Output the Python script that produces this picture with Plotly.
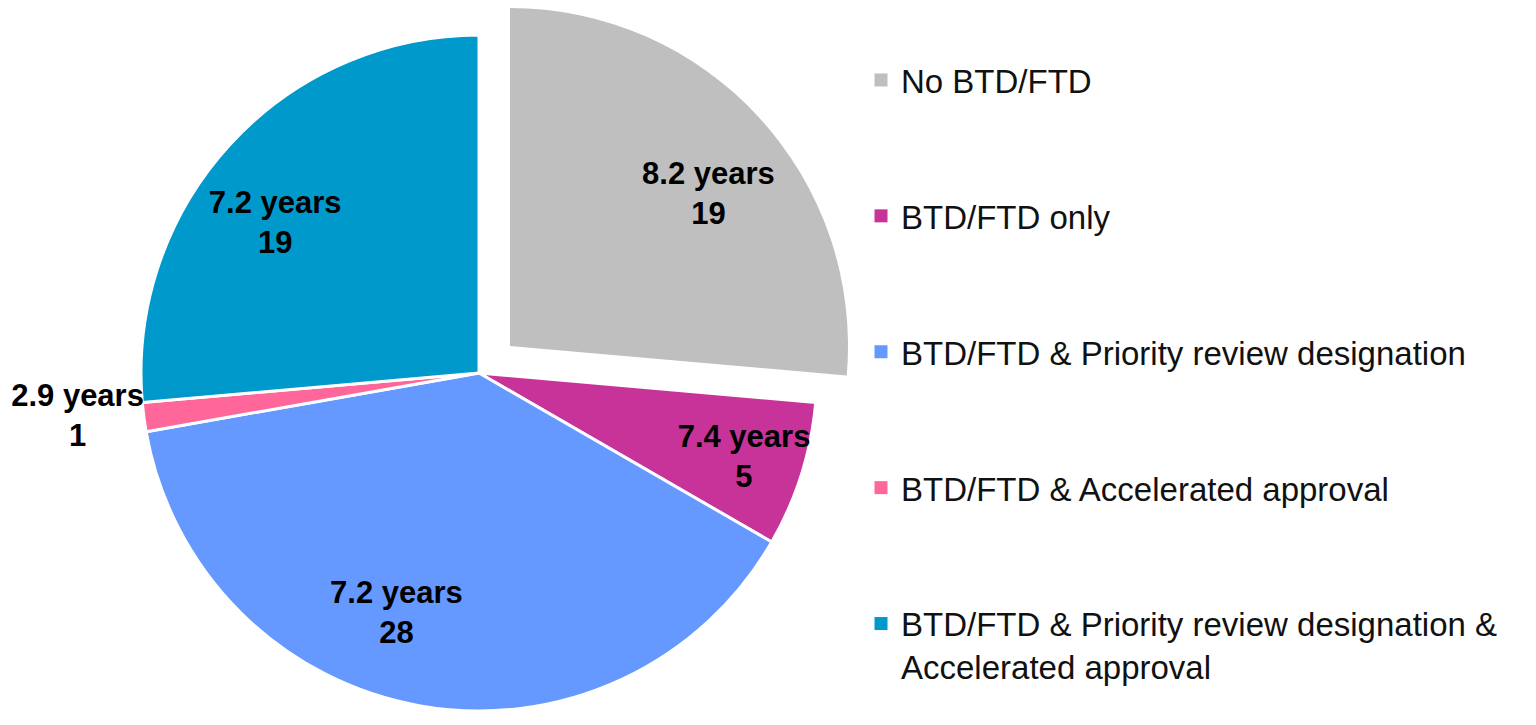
import plotly.graph_objects as go

labels = ["No BTD/FTD", "BTD/FTD only", "BTD/FTD & Priority review designation",
          "BTD/FTD & Accelerated approval",
          "BTD/FTD & Priority review designation &<br>Accelerated approval"]
counts = [19, 5, 28, 1, 19]
years = ["8.2 years", "7.4 years", "7.2 years", "2.9 years", "7.2 years"]
colors = ["#BFBFBF", "#C8339A", "#6699FF", "#FF6699", "#0099CC"]
exploded = [True, False, False, False, False]

# label placement styles (per slice): text position, ring hole, angular nudge, radius trim
text_pos = ["inside", "inside", "inside", "outside", "inside"]
label_hole = [0.48, 0.5, 0.5, 0.5, 0.5]
label_rot = [5, 0, 9, 0, -6]
label_trim = [0, 0, 0, 19, 0]

FONT = "Liberation Sans, Arial, sans-serif"
# the page body adds an 8px margin, so the figure is 16px smaller than the window
W, H = 1520, 709
LABEL_SIZE = 31

texts = [f"<b>{y}<br>{c}</b>" for y, c in zip(years, counts)]
CLEAR = "rgba(0,0,0,0)"
n = len(counts)

cx, cy, r = 471, 365, 338
dx, dy = 31, 27


def dom(x0, y0, rad=r):
    return dict(x=[(x0 - rad) / W, (x0 + rad) / W],
                y=[max(0, 1 - (y0 + rad) / H), min(1, 1 - (y0 - rad) / H)])


def center(i):
    return (cx + dx, cy - dy) if exploded[i] else (cx, cy)


common = dict(labels=labels, values=counts, sort=False, direction="clockwise",
              showlegend=False, hoverinfo="skip",
              insidetextorientation="horizontal",
              textfont=dict(family=FONT, size=LABEL_SIZE, color="black"))

fig = go.Figure()
# main pie (fills of non-exploded slices)
fig.add_trace(go.Pie(
    marker=dict(colors=[CLEAR if e else c for c, e in zip(colors, exploded)],
                line=dict(color="white", width=3)),
    textinfo="none", rotation=0, domain=dom(cx, cy), **common))
# exploded slice (fill), shifted outward along its bisector
fig.add_trace(go.Pie(
    marker=dict(colors=[c if e else CLEAR for c, e in zip(colors, exploded)],
                line=dict(width=0)),
    textinfo="none", rotation=0, domain=dom(cx + dx, cy - dy), **common))

# label layers: transparent rings carrying one slice label each
for i in range(n):
    x0, y0 = center(i)
    fig.add_trace(go.Pie(
        marker=dict(colors=[CLEAR] * n, line=dict(width=0)),
        hole=label_hole[i], rotation=label_rot[i],
        text=[t if j == i else "" for j, t in enumerate(texts)],
        textinfo="text", textposition=text_pos[i],
        domain=dom(x0, y0, r - label_trim[i]), **common))

for lab, col in zip(labels, colors):
    fig.add_trace(go.Scatter(
        x=[None], y=[None], mode="markers", name=lab, legendgroup=lab,
        marker=dict(symbol="square", size=13, color=col),
    ))

fig.update_layout(
    width=W, height=H,
    margin=dict(l=0, r=0, t=0, b=0, autoexpand=False),
    paper_bgcolor="white", plot_bgcolor="white",
    xaxis=dict(visible=False), yaxis=dict(visible=False),
    uniformtext=dict(minsize=LABEL_SIZE, mode="show"),
    legend=dict(
        x=853 / W, xanchor="left", y=1 - 44 / H, yanchor="top",
        font=dict(family=FONT, size=33, color="#111111"),
        tracegroupgap=90, valign="top", bgcolor="rgba(0,0,0,0)",
        itemclick=False,
    ),
)

fig.write_html("out.html")
